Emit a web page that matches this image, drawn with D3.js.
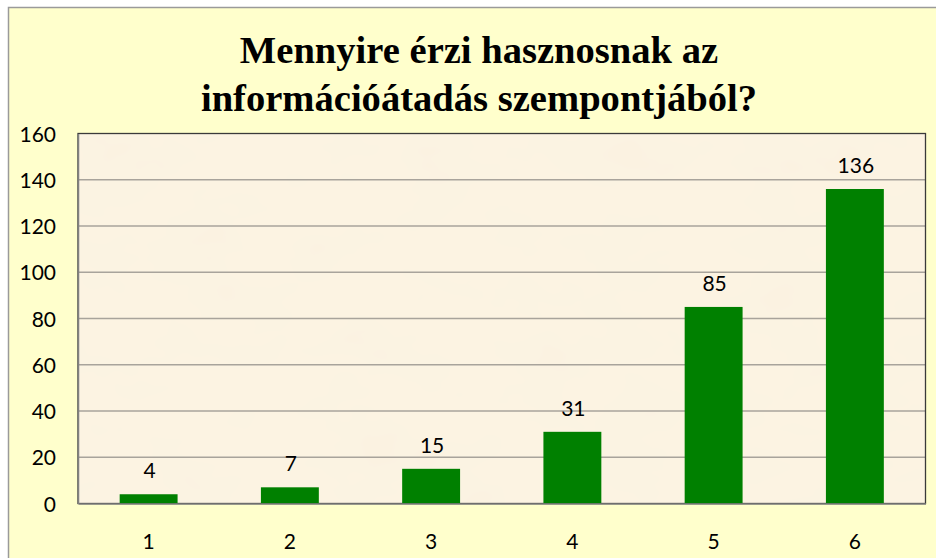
<!DOCTYPE html>
<html>
<head>
<meta charset="utf-8">
<script src="https://cdn.jsdelivr.net/npm/d3@7"></script>
<style>
  body { margin: 0; background: #fff; }
  svg { display: block; }
</style>
</head>
<body>
<div id="chart"></div>
<script>
// data
var categories = ["1", "2", "3", "4", "5", "6"];
var values = [4, 7, 15, 31, 85, 136];
var yTicks = [0, 20, 40, 60, 80, 100, 120, 140, 160];
var titleLines = ["Mennyire érzi hasznosnak az", "információátadás szempontjából?"];

var W = 936, H = 558;
var margin = {top: 133.5, right: 10.5, bottom: 54.5, left: 78};
var width = W - margin.left - margin.right,
    height = H - margin.top - margin.bottom;

var svg = d3.select("#chart")
  .append("svg")
    .attr("width", W)
    .attr("height", H);

// chart area (light yellow, cut off at right and bottom)
svg.append("rect")
  .attr("x", 8.5).attr("y", 7.5)
  .attr("width", W + 20).attr("height", H + 20)
  .attr("fill", "#ffffcc")
  .attr("stroke", "#9a9a9a")
  .attr("stroke-width", 1.5);

// parchment texture
var defs = svg.append("defs");
var f = defs.append("filter").attr("id", "paper")
  .attr("x", 0).attr("y", 0).attr("width", 1).attr("height", 1);
f.append("feTurbulence")
  .attr("type", "fractalNoise")
  .attr("baseFrequency", "0.012 0.02")
  .attr("numOctaves", 3)
  .attr("seed", 4)
  .attr("result", "noise");
f.append("feColorMatrix")
  .attr("in", "noise")
  .attr("type", "matrix")
  .attr("values", "0 0 0 0 0.94  0 0 0 0 0.88  0 0 0 0 0.74  0 0 0 -0.8 0.45")
  .attr("result", "tint");
f.append("feComposite").attr("in", "tint").attr("in2", "SourceGraphic").attr("operator", "atop");

var g = svg.append("g")
  .attr("transform", "translate(" + margin.left + "," + margin.top + ")");

g.append("rect")
  .attr("width", width).attr("height", height)
  .attr("fill", "#fcf3e2");
g.append("rect")
  .attr("width", width).attr("height", height)
  .attr("fill", "#fcf3e2")
  .attr("filter", "url(#paper)");

var x = d3.scaleBand()
  .domain(categories)
  .range([0, width])
  .padding(0);

var y = d3.scaleLinear()
  .domain([0, 160])
  .range([height, 0]);

// gridlines
g.append("g")
  .selectAll("line")
  .data(yTicks.filter(function(d) { return d > 0 && d < 160; }))
  .enter()
  .append("line")
    .attr("x1", 0).attr("x2", width)
    .attr("y1", function(d) { return y(d); })
    .attr("y2", function(d) { return y(d); })
    .attr("stroke", "#a8a39b")
    .attr("stroke-width", 1.3);

// plot border
g.append("rect")
  .attr("width", width).attr("height", height)
  .attr("fill", "none")
  .attr("stroke", "#3a3a3a")
  .attr("stroke-width", 1.3);

// bars
var barW = x.bandwidth() * 0.41;
g.append("g")
  .selectAll("rect")
  .data(values)
  .enter()
  .append("rect")
    .attr("x", function(d, i) { return x(categories[i]) + (x.bandwidth() - barW) / 2; })
    .attr("y", function(d) { return y(d); })
    .attr("width", barW)
    .attr("height", function(d) { return height - y(d); })
    .attr("fill", "#008000");

// value labels
g.append("g")
  .selectAll("text")
  .data(values)
  .enter()
  .append("text")
    .attr("x", function(d, i) { return x(categories[i]) + x.bandwidth() / 2 + 1; })
    .attr("y", function(d) { return y(d) - 16; })
    .attr("text-anchor", "middle")
    .attr("font-family", "Lato, 'Open Sans', sans-serif")
    .attr("font-size", "21px")
    .attr("fill", "#000")
    .text(function(d) { return d; });

// left and bottom axis lines (grey)
var yAxis = d3.axisLeft(y).tickValues(yTicks).tickSize(0).tickPadding(22);
var yg = g.append("g").call(yAxis);
yg.select(".domain").attr("stroke", "#808080").attr("stroke-width", 1.5);
yg.selectAll("text")
  .attr("font-family", "Lato, 'Open Sans', sans-serif")
  .attr("font-size", "21px")
  .attr("fill", "#000")
  .attr("dy", "0.36em");

var xAxis = d3.axisBottom(x).tickSize(0).tickPadding(31);
var xg = g.append("g")
  .attr("transform", "translate(0," + height + ")")
  .call(xAxis);
xg.select(".domain").attr("stroke", "#808080").attr("stroke-width", 1.5);
xg.selectAll("text")
  .attr("font-family", "Lato, 'Open Sans', sans-serif")
  .attr("font-size", "21px")
  .attr("fill", "#000");

// title
svg.append("g")
  .selectAll("text")
  .data(titleLines)
  .enter()
  .append("text")
    .attr("x", 479)
    .attr("y", function(d, i) { return 63 + i * 48; })
    .attr("text-anchor", "middle")
    .attr("font-family", "'Liberation Serif', 'Times New Roman', serif")
    .attr("font-weight", "bold")
    .attr("font-size", "38.6px")
    .attr("fill", "#000")
    .text(function(d) { return d; });
</script>
</body>
</html>
